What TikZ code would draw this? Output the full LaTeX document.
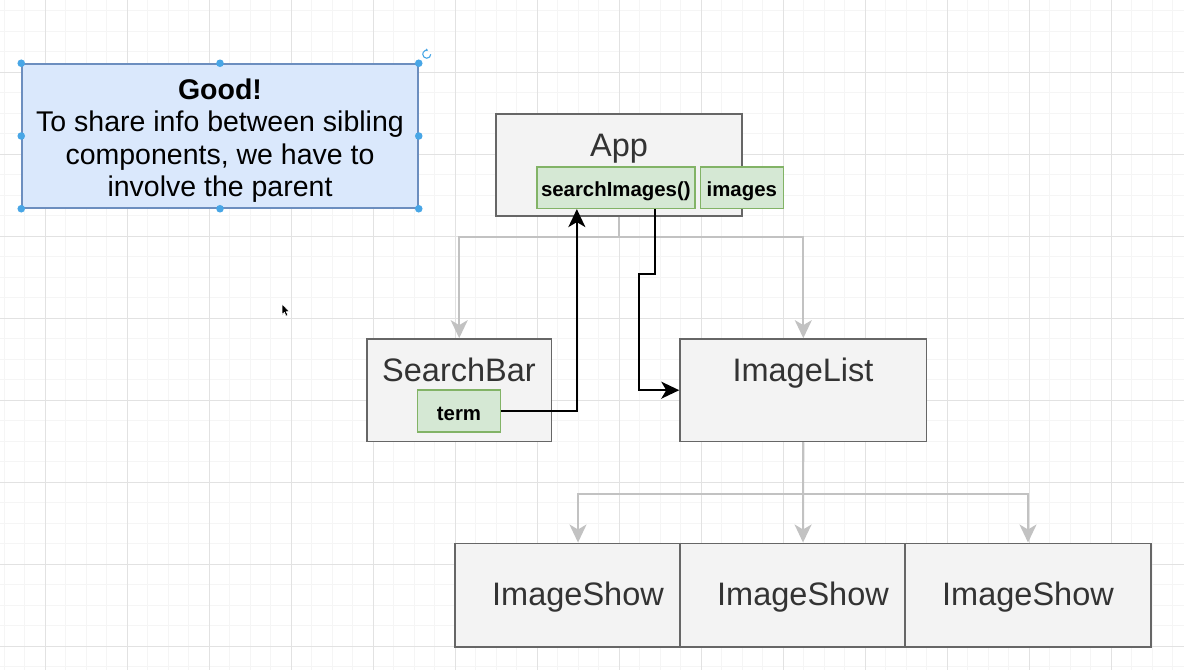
\documentclass[tikz,border=0pt]{standalone}
\usepackage{fontspec}
\setmainfont{Liberation Sans}
\usetikzlibrary{arrows.meta,calc}
\definecolor{boxfill}{HTML}{F3F3F3}
\definecolor{boxdraw}{HTML}{666666}
\definecolor{labeltext}{HTML}{333333}
\definecolor{greenfill}{HTML}{D5E8D4}
\definecolor{greendraw}{HTML}{82B366}
\definecolor{bluefill}{HTML}{DAE8FC}
\definecolor{bluedraw}{HTML}{6C8EBF}
\definecolor{handlecol}{HTML}{48A6E6}
\definecolor{conngray}{HTML}{C2C2C2}
\definecolor{gridmajor}{HTML}{E2E2E2}
\definecolor{gridminor}{HTML}{F5F5F5}
\begin{document}
\begin{tikzpicture}[x=1pt,y=-1pt,
  comp/.style={draw=boxdraw, fill=boxfill, line width=1.6pt, inner sep=0pt, text=labeltext,
    font=\fontsize{32.5}{38}\selectfont},
  lbl/.style={inner sep=0pt, text=labeltext, font=\fontsize{32.5}{38}\selectfont, anchor=base},
  greenbox/.style={draw=greendraw, fill=greenfill, line width=1.6pt, inner sep=0pt,
    font=\fontsize{20.4}{24}\selectfont\bfseries, minimum height=41.6pt, text depth=0pt},
  grayconn/.style={draw=conngray, line width=2pt, -{Stealth[length=18pt,width=17pt,inset=5pt]}},
  blackconn/.style={draw=black, line width=2pt, -{Stealth[length=18pt,width=17pt,inset=5pt]}},
  handle/.style={fill=handlecol}
]
\useasboundingbox (0,0) rectangle (1184,670);
\fill[white] (0,0) rectangle (1184,670);
% grid
\foreach \i in {0,...,57} {\draw[gridminor, line width=0.8pt] ({4.3+20.5*\i},0) -- ({4.3+20.5*\i},670);}
\foreach \i in {0,...,32} {\draw[gridminor, line width=0.8pt] (0,{10.8+20.5*\i}) -- (1184,{10.8+20.5*\i});}
\foreach \i in {0,...,13} {\draw[gridmajor, line width=0.9pt] ({45.3+82*\i},0) -- ({45.3+82*\i},670);}
\foreach \i in {0,...,7} {\draw[gridmajor, line width=0.9pt] (0,{72.3+82*\i}) -- (1184,{72.3+82*\i});}

% note
\node[draw=bluedraw, fill=bluefill, line width=1.5pt, minimum width=396pt, minimum height=144pt, inner sep=0pt] (note) at (220,136) {};
\node[align=center, inner sep=0pt, font=\fontsize{28.5}{32.3}\selectfont] (notetext) at (220,140.5)
  {{\fontsize{28.5}{32.3}\selectfont\bfseries Good!}\\To share info between sibling\\components, we have to\\involve the parent};
\foreach \a in {north west,north,north east,west,east,south west,south,south east}
  {\fill[handle] (note.\a) circle (3.8pt);}
\draw[handlecol, line width=1.1pt, -{Latex[length=2.2pt,width=3pt]}] ($(note.north east)+(12,-9)$) arc[start angle=0, end angle=290, radius=4];

% App
\node[comp, minimum width=246pt, minimum height=102pt] (app) at (619,165) {};
\node[lbl] (applbl) at (619,156) {App};
\node[greenbox, minimum width=158.3pt, text height=18.4pt] (si) at (615.85,187.5) {searchImages()};
\node[greenbox, minimum width=83pt, text height=18.4pt] (img) at (741.8,187.5) {images};

% SearchBar
\node[comp, minimum width=184.6pt, minimum height=102.5pt] (sb) at (459.2,390.2) {};
\node[lbl] (sblbl) at (459,381) {SearchBar};
\node[greenbox, minimum width=83.3pt, text height=18.2pt] (term) at (459,410.9) {term};

% ImageList
\node[comp, minimum width=246.5pt, minimum height=102.5pt] (il) at (803.3,390.2) {};
\node[lbl] (illbl) at (803,381) {ImageList};

% ImageShow row
\node[comp, minimum width=246pt, minimum height=103.4pt, text height=20pt, text depth=0pt] (is1) at (578,595) {ImageShow};
\node[comp, minimum width=246pt, minimum height=103.4pt, text height=20pt, text depth=0pt] (is2) at (803,595) {ImageShow};
\node[comp, minimum width=246pt, minimum height=103.4pt, text height=20pt, text depth=0pt] (is3) at (1028,595) {ImageShow};

% gray connectors
\draw[grayconn] (app.south) -- ++(0,20) -| (sb.north);
\draw[grayconn] (app.south) -- ++(0,20) -| (il.north);
\draw[grayconn] (il.south) -- ++(0,52) -| (is1.north);
\draw[grayconn] (il.south) -- (is2.north);
\draw[grayconn] (il.south) -- ++(0,52) -| (is3.north);

% black connectors
\draw[blackconn] (term.east) -| ([xshift=-39pt]si.south);
\draw[blackconn] ([xshift=39pt]si.south) -- ++(0,65) -- ++(-15.7,0) |- (il.west);

% cursor
\filldraw[fill=black, draw=white, line width=0.5pt, line join=round] (282,304) -- (282,314.5) -- (284.4,312.3) -- (286,316) -- (287.8,315.2) -- (286.2,311.6) -- (289.3,311.6) -- cycle;
\end{tikzpicture}
\end{document}
